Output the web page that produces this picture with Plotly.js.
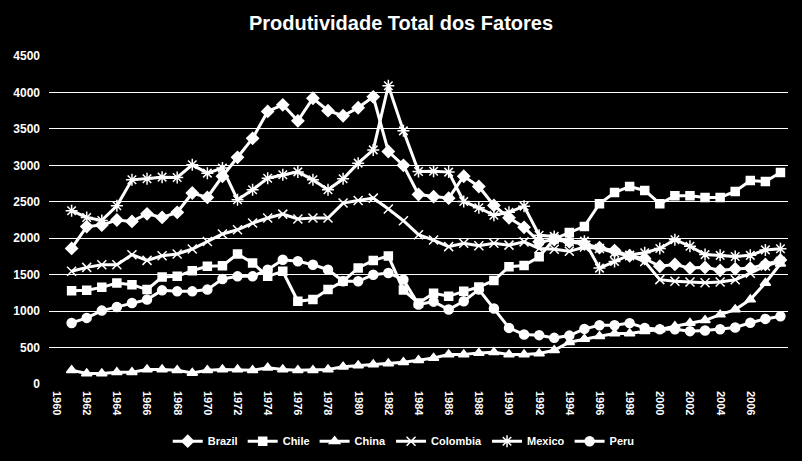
<!DOCTYPE html>
<html>
<head>
<meta charset="utf-8">
<script src="https://cdn.plot.ly/plotly-3.0.1.min.js"></script>
<style>
  html, body { margin: 0; padding: 0; background: #000; }
  #chart { width: 802px; height: 461px; }
</style>
</head>
<body>
<div id="chart"></div>
<script>
const years = [1961, 1962, 1963, 1964, 1965, 1966, 1967, 1968, 1969, 1970,
  1971, 1972, 1973, 1974, 1975, 1976, 1977, 1978, 1979, 1980,
  1981, 1982, 1983, 1984, 1985, 1986, 1987, 1988, 1989, 1990,
  1991, 1992, 1993, 1994, 1995, 1996, 1997, 1998, 1999, 2000,
  2001, 2002, 2003, 2004, 2005, 2006, 2007, 2008];

const brazil = [1860, 2160, 2180, 2250, 2230, 2335, 2285, 2355, 2620, 2560,
  2850, 3110, 3370, 3740, 3830, 3610, 3920, 3750, 3680, 3790,
  3940, 3190, 3000, 2600, 2570, 2550, 2850, 2710, 2450, 2280,
  2150, 1950, 1980, 1950, 1920, 1870, 1830, 1760, 1720, 1615,
  1640, 1590, 1600, 1560, 1580, 1590, 1640, 1700];

const chile = [1280, 1285, 1326, 1386, 1363, 1295, 1468, 1477, 1555, 1614,
  1623, 1783, 1660, 1477, 1546, 1135, 1158, 1295, 1409, 1592,
  1696, 1755, 1290, 1110, 1245, 1203, 1271, 1330, 1420, 1610,
  1625, 1745, 1990, 2080, 2162, 2473, 2627, 2710, 2655, 2473,
  2582, 2582, 2559, 2559, 2641, 2792, 2778, 2901];

const china = [189, 144, 144, 162, 162, 199, 199, 189, 150, 189,
  199, 199, 189, 222, 199, 189, 189, 199, 236, 253,
  267, 281, 299, 326, 358, 404, 404, 427, 436, 404,
  404, 420, 463, 573, 619, 655, 692, 692, 723, 747,
  792, 838, 874, 952, 1021, 1158, 1386, 1650];

const colombia = [1546, 1600, 1637, 1637, 1774, 1696, 1760, 1783, 1852, 1956,
  2058, 2116, 2208, 2277, 2331, 2265, 2277, 2277, 2482, 2518,
  2550, 2402, 2240, 2048, 1975, 1885, 1930, 1897, 1930, 1905,
  1950, 1860, 1850, 1820, 1880, 1860, 1800, 1760, 1680, 1432,
  1410, 1400, 1390, 1400, 1430, 1520, 1620, 1680];

const mexico = [2377, 2285, 2244, 2445, 2801, 2815, 2838, 2833, 3007, 2893,
  2962, 2527, 2664, 2824, 2870, 2910, 2801, 2664, 2815, 3030,
  3212, 4093, 3473, 2916, 2920, 2907, 2504, 2418, 2315, 2356,
  2440, 2040, 2025, 1950, 1960, 1590, 1680, 1770, 1800, 1860,
  1980, 1890, 1775, 1765, 1750, 1765, 1840, 1855];

const peru = [838, 907, 1007, 1057, 1112, 1158, 1285, 1271, 1271, 1295,
  1441, 1477, 1477, 1568, 1705, 1683, 1637, 1568, 1409, 1409,
  1500, 1523, 1432, 1090, 1130, 1021, 1135, 1295, 1035, 770,
  678, 670, 633, 664, 756, 805, 805, 835, 770, 750,
  750, 725, 735, 750, 775, 840, 893, 929];

const xTicks = [1960, 1962, 1964, 1966, 1968, 1970, 1972, 1974, 1976, 1978,
  1980, 1982, 1984, 1986, 1988, 1990, 1992, 1994, 1996, 1998,
  2000, 2002, 2004, 2006];

const yTicks = [0, 500, 1000, 1500, 2000, 2500, 3000, 3500, 4000, 4500];

function series(name, values, symbol, size) {
  return {
    x: years,
    y: values,
    name: name,
    type: 'scatter',
    mode: 'lines+markers',
    line: { color: '#ffffff', width: 3 },
    marker: {
      symbol: symbol,
      size: size,
      color: '#ffffff',
      line: { color: '#ffffff', width: 1.5 }
    }
  };
}

const data = [
  series('Brazil', brazil, 'diamond', 9),
  series('Chile', chile, 'square', 8),
  series('China', china, 'triangle-up', 9),
  series('Colombia', colombia, 'x-thin-open', 9),
  series('Mexico', mexico, 'asterisk-open', 10),
  series('Peru', peru, 'circle', 9)
];

const layout = {
  width: 802,
  height: 461,
  paper_bgcolor: '#000000',
  plot_bgcolor: '#000000',
  margin: { l: 49, r: 14, t: 56, b: 77 },
  font: { family: 'Liberation Sans, Arial, sans-serif', color: '#ffffff' },
  title: {
    text: '<b>Produtividade Total dos Fatores</b>',
    font: { family: 'Liberation Sans, Arial, sans-serif', size: 20, color: '#ffffff' },
    x: 0.5,
    xanchor: 'center',
    y: 0.95,
    yanchor: 'middle'
  },
  xaxis: {
    range: [1959.5, 2008.5],
    tickvals: xTicks,
    ticktext: xTicks.map(String),
    tickangle: 90,
    tickfont: { size: 11, color: '#ffffff', weight: 'bold' },
    ticklabelstandoff: 6,
    automargin: false,
    showgrid: false,
    zeroline: false,
    showline: false,
    fixedrange: true
  },
  yaxis: {
    range: [0, 4500],
    tickvals: yTicks,
    tickfont: { size: 12, color: '#ffffff', weight: 'bold' },
    ticklabelstandoff: 8,
    automargin: false,
    showgrid: true,
    gridcolor: '#ffffff',
    gridwidth: 1,
    zeroline: false,
    showline: false,
    fixedrange: true
  },
  showlegend: true,
  legend: {
    orientation: 'h',
    x: 0.48,
    xanchor: 'center',
    yref: 'container',
    y: 0.043,
    yanchor: 'middle',
    font: { size: 11, color: '#ffffff', weight: 'bold' },
    bgcolor: 'rgba(0,0,0,0)',
    itemwidth: 30
  }
};

Plotly.newPlot('chart', data, layout, { displayModeBar: false, staticPlot: true });
</script>
</body>
</html>
